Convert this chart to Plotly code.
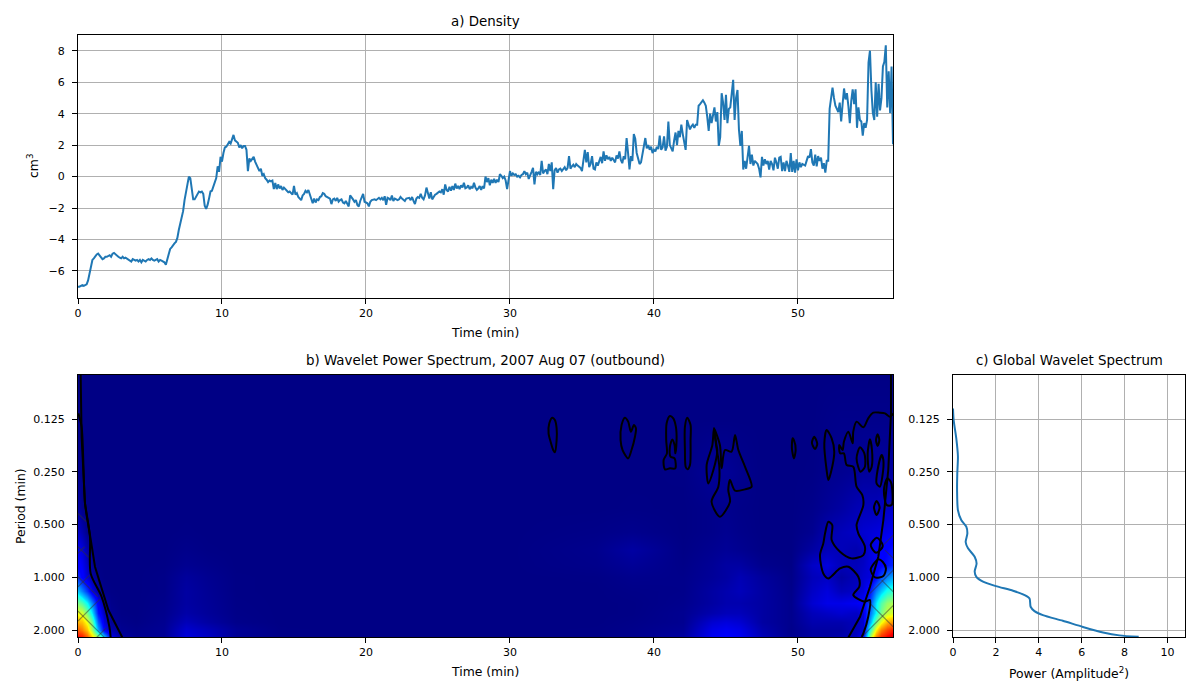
import math
import plotly.graph_objects as go

# ---------- a) Density: one row per minute, samples every 0.1 min ----------
DENSITY_ROWS = [
 [-7.0,-7.0,-6.95,-6.9,-6.95,-6.9,-6.85,-6.6,-6.2,-5.8],
 [-5.3,-5.2,-5.05,-4.95,-4.9,-5.0,-5.15,-5.25,-5.2,-5.1],
 [-5.1,-5.05,-5.0,-5.1,-4.9,-4.85,-4.95,-5.05,-5.1,-5.15],
 [-5.2,-5.1,-5.2,-5.15,-5.2,-5.25,-5.35,-5.4,-5.25,-5.3],
 [-5.35,-5.3,-5.4,-5.3,-5.45,-5.3,-5.35,-5.4,-5.3,-5.25],
 [-5.3,-5.2,-5.3,-5.35,-5.3,-5.25,-5.4,-5.3,-5.35,-5.4],
 [-5.45,-5.6,-5.3,-4.95,-4.6,-4.5,-4.35,-4.25,-4.15,-3.9],
 [-3.4,-3.0,-2.7,-2.2,-1.5,-1.0,-0.4,0.0,-0.1,-0.9],
 [-1.45,-1.45,-1.3,-1.15,-0.95,-1.0,-0.95,-1.1,-1.85,-2.05],
 [-1.8,-1.4,-0.95,-0.9,-0.6,-0.45,-0.1,0.65,0.3,1.25],
 [0.95,1.5,1.85,1.9,2.1,2.2,2.1,2.35,2.65,2.3],
 [2.2,2.15,1.85,2.0,1.8,1.95,1.95,1.7,0.35,1.15],
 [1.0,1.1,1.25,0.95,0.75,0.6,0.35,0.5,0.05,0.15],
 [-0.1,-0.2,-0.35,-0.25,-0.3,-0.25,-0.8,-0.4,-0.8,-0.5],
 [-0.75,-0.6,-0.85,-0.7,-0.8,-0.9,-1.0,-0.95,-1.05,-1.15],
 [-0.6,-1.15,-1.05,-1.3,-1.4,-1.5,-1.2,-1.1,-0.9,-1.0],
 [-0.85,-1.1,-1.35,-1.7,-1.4,-1.65,-1.45,-1.5,-1.3,-1.25],
 [-1.05,-1.1,-1.25,-1.3,-1.35,-1.4,-1.75,-1.45,-1.4,-1.55],
 [-1.35,-1.6,-1.5,-1.45,-1.65,-1.7,-1.55,-1.75,-1.9,-1.2],
 [-1.3,-1.45,-1.6,-1.5,-1.8,-1.9,-1.55,-1.35,-1.1,-1.6],
 [-1.65,-1.7,-1.9,-1.6,-1.5,-1.45,-1.45,-1.5,-1.4,-1.35],
 [-1.45,-1.35,-1.5,-1.25,-1.8,-1.35,-1.4,-1.5,-1.2,-1.55],
 [-1.4,-1.45,-1.5,-1.45,-1.3,-1.4,-1.45,-1.55,-1.4,-1.35],
 [-1.35,-1.5,-1.3,-1.55,-1.75,-1.4,-1.3,-1.35,-1.1,-1.35],
 [-1.45,-1.2,-0.7,-1.05,-1.4,-1.0,-1.45,-1.3,-1.15,-1.1],
 [-1.05,-0.95,-1.0,-0.8,-1.15,-0.5,-0.85,-0.95,-0.65,-0.9],
 [-0.6,-0.85,-0.45,-0.75,-0.6,-0.8,-0.55,-0.7,-0.4,-0.75],
 [-0.7,-0.55,-0.8,-0.65,-0.75,-0.4,-0.7,-0.85,-0.75,-0.6],
 [-0.85,-0.6,-0.75,0.0,-0.35,-0.1,-0.55,-0.2,-0.4,-0.15],
 [-0.4,-0.2,-0.35,0.15,0.05,-0.1,0.0,-0.25,-0.8,-0.2],
 [0.35,0.05,0.2,0.1,0.15,0.0,0.05,-0.05,0.1,0.15],
 [0.35,0.15,0.25,-0.15,0.15,0.3,0.55,-0.5,0.3,0.15],
 [0.3,0.1,1.0,0.2,0.35,0.45,0.15,0.8,0.35,0.9],
 [-0.8,0.4,0.55,0.25,0.45,0.5,0.35,0.45,0.6,0.4],
 [0.55,1.3,0.5,0.65,0.75,0.6,0.8,0.7,0.65,0.55],
 [0.35,1.1,1.7,0.9,1.55,0.6,0.8,1.3,0.5,0.45],
 [0.9,0.7,1.05,1.25,0.85,1.6,1.0,1.35,1.1,1.25],
 [1.0,1.2,1.05,0.9,1.35,1.15,1.6,1.05,0.85,1.3],
 [1.1,2.45,1.5,0.45,1.3,1.0,2.7,2.4,1.5,1.2],
 [0.8,0.9,1.4,2.0,2.45,1.8,2.0,1.7,1.9,1.5],
 [1.7,1.6,1.9,1.75,2.6,1.7,1.85,2.55,1.65,1.9],
 [3.5,2.0,1.8,1.6,2.3,2.8,2.0,2.9,2.5,3.3],
 [2.7,2.3,1.7,3.6,3.3,3.0,3.2,3.3,3.1,3.3],
 [3.3,4.5,4.6,4.75,4.85,4.7,4.5,3.8,2.9,4.0],
 [3.4,3.9,4.4,3.5,4.1,1.95,2.5,5.3,4.7,3.6],
 [5.2,3.4,4.3,4.4,5.5,6.15,3.6,5.0,5.5,3.0],
 [1.95,2.9,0.45,1.0,0.5,1.3,1.95,0.8,1.4,0.7],
 [1.0,0.9,0.8,0.5,-0.05,1.25,0.7,1.1,0.8,1.0],
 [0.45,1.0,0.8,0.4,1.2,0.9,0.5,1.2,1.25,0.35],
 [0.9,0.35,1.0,0.7,0.3,1.5,0.3,1.0,0.25,1.1],
 [0.4,0.9,0.6,0.8,0.75,0.7,1.0,1.3,1.2,1.75],
 [0.9,0.7,1.4,0.65,1.3,1.0,1.2,0.5,0.85,0.25],
 [1.0,1.0,4.3,5.0,5.65,5.0,4.5,4.3,4.1,4.7],
 [3.5,4.6,5.6,4.9,5.3,4.5,3.4,4.8,5.55,4.6],
 [5.55,3.1,4.4,3.6,3.5,2.6,3.4,3.1,3.6,7.25],
 [8.0,5.5,4.05,3.6,6.0,3.8,5.9,4.2,5.0,7.0],
 [7.3,8.35,4.4,6.7,4.05,7.0,2.05],
]
density = [v for row in DENSITY_ROWS for v in row]
density_time = [i / 10 for i in range(len(density))]

# ---------- b) Wavelet power (normalised), read by colour ----------
HEAT_TIME = [0,.3,.6,1,1.4,1.8,2.3,3,4,6,7.5,9,11,14,20,30,36,38.5,42,44,45,46,47.5,49.5,51,52,53,54,54.5,55,55.4,55.8,56.2,56.66]
HEAT_PERIOD = [.07,.125,.25,.4,.55,.7,.85,1.0,1.2,1.4,1.6,1.8,2.0,2.19]
HEAT_POWER = [
 [.005]*34,
 [.01,.005,.005,.005,.005,.005,.005,.005,.005,.005,.005,.005,.005,.005,.005,.005,.005,.005,.005,.005,.005,.005,.005,.005,.005,.008,.01,.01,.01,.01,.01,.01,.01,.012],
 [.012,.005,.005,.005,.005,.005,.005,.005,.005,.005,.005,.005,.005,.005,.005,.005,.005,.005,.006,.02,.02,.012,.005,.005,.006,.012,.015,.02,.025,.025,.025,.025,.025,.03],
 [.03,.01,.005,.005,.005,.005,.005,.005,.005,.005,.005,.005,.005,.005,.005,.005,.005,.006,.005,.01,.012,.008,.005,.005,.01,.02,.03,.045,.05,.05,.05,.055,.06,.065],
 [.06,.04,.01,.005,.005,.005,.005,.005,.005,.005,.006,.005,.005,.005,.005,.005,.008,.012,.005,.01,.015,.01,.005,.005,.015,.04,.05,.06,.07,.075,.08,.085,.09,.1],
 [.10,.08,.04,.01,.005,.005,.005,.005,.005,.005,.01,.006,.005,.005,.005,.005,.012,.03,.006,.015,.02,.015,.006,.005,.03,.05,.05,.04,.05,.08,.1,.11,.125,.15],
 [.12,.10,.06,.02,.006,.005,.005,.005,.005,.006,.015,.01,.005,.005,.005,.005,.01,.02,.008,.02,.03,.03,.012,.006,.06,.08,.05,.05,.06,.08,.1,.12,.14,.17],
 [.16,.12,.07,.03,.01,.005,.005,.005,.005,.008,.025,.015,.006,.005,.005,.005,.006,.012,.01,.022,.03,.045,.025,.008,.05,.06,.03,.05,.07,.08,.13,.2,.26,.3],
 [.32,.26,.18,.09,.03,.01,.006,.005,.005,.008,.03,.018,.006,.005,.005,.005,.005,.008,.01,.03,.04,.05,.03,.01,.06,.08,.05,.06,.08,.14,.26,.33,.4,.43],
 [.5,.46,.38,.26,.1,.03,.01,.005,.005,.01,.03,.02,.007,.005,.005,.005,.005,.006,.012,.03,.04,.04,.03,.012,.07,.09,.09,.1,.11,.2,.36,.46,.53,.56],
 [.62,.6,.5,.36,.14,.05,.015,.006,.005,.012,.035,.022,.008,.005,.005,.005,.005,.006,.015,.04,.05,.05,.03,.012,.05,.06,.07,.06,.08,.24,.38,.5,.58,.6],
 [.72,.7,.62,.48,.22,.08,.02,.01,.006,.015,.05,.03,.01,.005,.005,.005,.005,.008,.015,.07,.08,.07,.03,.012,.04,.04,.04,.05,.07,.3,.5,.62,.72,.76],
 [.82,.78,.7,.55,.3,.12,.04,.015,.01,.018,.07,.05,.02,.006,.005,.005,.006,.01,.02,.09,.1,.09,.04,.01,.03,.03,.03,.05,.07,.42,.65,.78,.85,.9],
 [.92,.9,.82,.68,.55,.33,.1,.03,.015,.02,.08,.06,.02,.008,.006,.006,.008,.012,.03,.1,.11,.1,.05,.015,.03,.03,.04,.06,.12,.55,.78,.88,.92,.95],
]
# matplotlib "jet" stops
JET = [[0,"rgb(0,0,127)"],[.11,"rgb(0,0,255)"],[.125,"rgb(0,0,255)"],[.35,"rgb(0,219,255)"],[.375,"rgb(0,255,255)"],
       [.64,"rgb(255,255,0)"],[.66,"rgb(255,230,0)"],[.89,"rgb(255,30,0)"],[.91,"rgb(255,0,0)"],[1,"rgb(127,0,0)"]]

# Significance contours as (time in min, log2 of the period)
CONTOURS = [
 ([32.94,32.73,32.68,32.82,33.0,33.12,33.24,33.24,33.12,32.94],[-3.025,-2.918,-2.728,-2.57,-2.412,-2.368,-2.6,-2.823,-2.98,-3.025]),
 ([37.98,37.75,37.68,37.82,38.21,38.44,38.68,38.75,38.61,38.4,38.21,37.98],[-3.025,-2.886,-2.6,-2.412,-2.254,-2.412,-2.665,-2.823,-2.886,-2.76,-2.95,-3.025]),
 ([41.11,40.88,40.85,40.9,40.67,40.76,41.11,41.48,41.43,41.15,41.11,41.27,41.43,41.48,41.57,41.52,41.34,41.11],[-3.057,-2.918,-2.6,-2.349,-2.223,-2.046,-2.065,-2.065,-2.254,-2.286,-2.475,-2.614,-2.507,-2.349,-2.6,-2.855,-3.012,-3.057]),
 ([42.31,42.15,42.15,42.2,42.33,42.5,42.54,42.54,42.31],[-3.025,-2.855,-2.412,-2.096,-2.046,-2.128,-2.6,-2.886,-3.025]),
 ([44.17,44.05,43.66,43.77,44.12,44.4,44.35,44.17],[-2.823,-2.5,-2.13,-1.78,-2.03,-2.41,-2.48,-2.823]),
 ([44.17,44.58,44.7,44.93,45.39,45.63,45.86,46.32,46.78,46.32,45.63,45.28,45.16,45.28,44.58,44.0,44.47,44.54,44.35,44.17],
  [-2.823,-2.507,-2.065,-2.412,-2.381,-2.697,-2.412,-2.096,-1.717,-1.667,-1.642,-1.844,-1.654,-1.433,-1.149,-1.433,-1.717,-2.096,-2.444,-2.823]),
 ([49.63,49.58,49.72,49.84,49.72,49.63],[-2.634,-2.444,-2.254,-2.412,-2.6,-2.634]),
 ([51.13,50.97,51.18,51.34,51.13],[-2.665,-2.551,-2.431,-2.526,-2.665]),
 ([51.99,51.83,51.99,52.11,52.38,52.52,52.34,51.99],[-2.792,-2.539,-2.033,-1.844,-2.096,-2.381,-2.634,-2.792]),
 ([56.64,56.39,56.04,55.69,55.23,54.88,54.54,54.07,53.84,53.8,53.5,53.19,53.1,52.87,52.92,53.19,53.38,53.84,54.07,54.47,54.54,54.07,54.19,54.65,54.54,53.73,52.92,52.34,52.38,52.11,51.88,51.76,51.53,51.76,52.11,52.92,53.5,54.19,54.26,53.84,54.65,55.0,54.88,54.54,54.42],
  [-3.107,-3.044,-3.107,-3.12,-3.12,-3.013,-2.842,-2.95,-2.76,-2.539,-2.76,-2.57,-2.412,-2.507,-2.349,-2.349,-2.128,-2.096,-1.717,-1.559,-1.37,-.991,-.833,-.58,-.422,-.359,-.485,-.706,-.991,-1.054,-.833,-.643,-.422,-.074,.02,-.169,-.2,-.011,.179,.336,.463,.431,.747,1.063,1.13]),
 ([54.31,54.07,54.35,54.65,54.61,54.31],[-2.463,-2.254,-2.002,-2.096,-2.349,-2.463]),
 ([55.0,54.84,54.95,55.12,55.14,55.0],[-2.615,-2.349,-2.002,-2.096,-2.412,-2.615]),
 ([55.53,55.42,55.53,55.65,55.53],[-2.709,-2.602,-2.488,-2.602,-2.709]),
 ([55.81,55.53,55.46,55.69,55.86,55.93,55.81],[-2.318,-2.033,-1.78,-1.717,-1.907,-2.223,-2.318]),
 ([56.2,55.97,56.16,56.5,56.55,56.44,56.2],[-1.875,-1.654,-1.37,-1.37,-1.654,-1.812,-1.875]),
 ([55.46,55.28,55.46,55.67,55.46],[-1.446,-1.326,-1.18,-1.326,-1.446]),
 ([55.46,55.05,55.42,55.88,55.69,55.46],[-.75,-.611,-.466,-.58,-.706,-.75]),
 ([55.58,55.05,55.35,55.93,56.11,55.88,55.58],[-.34,-.15,0.0,-.024,-.169,-.295,-.34]),
 ([.02,.25,.486,.83,.88,1.64,2.18,2.27],[-3.107,-2.855,-1.401,-.77,-.074,.368,.937,1.14]),
]
COI_LEFT_T = [.185,.25,.486,1.18,2.11,3.08]
COI_LEFT_P = [-3.834,-2.665,-1.401,-.2,.62,1.14]
COI_RIGHT_T = [56.46,56.46,56.27,55.93,55.58,55.0,54.31,53.5]
COI_RIGHT_P = [-3.834,-3.107,-2.033,-1.085,-.39,.179,.747,1.14]

# Cone-of-influence hatching, each stroke as (t0, t1, log2p0, log2p1)
HATCH = [
 (0,.58,-1.212,-1.054),(0,.46,-.453,-.58),(0,.74,-.58,-.377),(0,1.39,-.01,.368),(0,1.85,.64,1.145),
 (0,.81,.179,-.042),(0,1.5,.83,.419),(1.16,1.97,1.177,.956),
 (54.88,56.62,.463,.937),(56.62,54.42,.533,1.133),(56.62,55.0,-.137,.305),(55.81,56.62,.053,.274),
 (56.62,55.58,-.8,-.516),(56.04,56.62,-.516,-.358),(56.62,56.04,-1.464,-1.306),
]

# ---------- c) Global wavelet spectrum ----------
GWS_POWER = [0.0,.03,.155,.23,.2,.19,.23,.39,.62,.67,.59,.70,1.01,1.1,1.01,1.09,1.4,2.0,2.8,3.34,3.57,3.62,3.8,4.19,5.12,6.06,7.0,7.76,8.66]
GWS_LOG2P = [-3.2,-2.98,-2.63,-2.29,-1.97,-1.65,-1.27,-1.08,-.96,-.83,-.67,-.55,-.39,-.26,-.11,-.01,.08,.166,.254,.337,.4,.558,.64,.716,.823,.94,1.044,1.1,1.127]

PERIOD_TICKS = [.125,.25,.5,1,2]
PERIOD_LABELS = ["0.125","0.250","0.500","1.000","2.000"]
TITLES = ["a) Density","b) Wavelet Power Spectrum, 2007 Aug 07 (outbound)","c) Global Wavelet Spectrum"]

W, H = 1200, 700
LEFT = 3
FONT = "DejaVu Sans"
BLUE = "#1f77b4"
GRID = "#b0b0b0"
to_period = lambda values: [2 ** v for v in values]

fig = go.Figure()
fig.add_trace(go.Scatter(x=density_time, y=density, mode="lines", line=dict(color=BLUE, width=2), xaxis="x", yaxis="y", showlegend=False))
fig.add_trace(go.Heatmap(x=HEAT_TIME, y=HEAT_PERIOD, z=HEAT_POWER, colorscale=JET, zmin=0, zmax=1, zsmooth="best", showscale=False, xaxis="x2", yaxis="y2"))
for t0, t1, p0, p1 in HATCH:
    fig.add_trace(go.Scatter(x=[t0, t1], y=to_period([p0, p1]), mode="lines", line=dict(color="rgba(50,50,50,0.5)", width=1.2), xaxis="x2", yaxis="y2", showlegend=False, hoverinfo="skip"))
for ct, cp in ((COI_LEFT_T, COI_LEFT_P), (COI_RIGHT_T, COI_RIGHT_P)):
    fig.add_trace(go.Scatter(x=ct, y=to_period(cp), mode="lines", line=dict(color="black", width=2), xaxis="x2", yaxis="y2", showlegend=False))
for ct, cp in CONTOURS:
    fig.add_trace(go.Scatter(x=ct, y=to_period(cp), mode="lines", line=dict(color="black", width=2, shape="spline", smoothing=0.8), xaxis="x2", yaxis="y2", showlegend=False))
fig.add_trace(go.Scatter(x=GWS_POWER, y=to_period(GWS_LOG2P), mode="lines", line=dict(color=BLUE, width=2, shape="spline", smoothing=0.7), xaxis="x3", yaxis="y3", showlegend=False))

tickfont = dict(family=FONT, size=11, color="black")
def axis(domain, rng, **kw):
    return dict(domain=domain, range=rng, showline=True, linecolor="black", linewidth=1, mirror=True, ticks="outside", ticklen=5,
                tickwidth=1, tickcolor="black", tickfont=tickfont, zeroline=False, **kw)
xd = lambda a, b: [(a - LEFT) / (W - LEFT), (b - LEFT) / (W - LEFT)]
yd = lambda top, bot: [(H - bot) / H, (H - top) / H]
prange = [math.log10(2.19), math.log10(2 ** -3.834)]
fig.update_layout(
    width=W, height=H, margin=dict(l=LEFT, r=0, t=0, b=0), paper_bgcolor="white", plot_bgcolor="white", showlegend=False,
    xaxis=axis(xd(78, 893), [0, 56.6], anchor="y", tickvals=[0,10,20,30,40,50], showgrid=True, gridcolor=GRID, gridwidth=1),
    yaxis=axis(yd(35, 298), [-7.72, 9.0], anchor="x", tickvals=[-6,-4,-2,0,2,4,6,8], ticktext=["\u22126","\u22124","\u22122","0","2","4","6","8"], showgrid=True, gridcolor=GRID, gridwidth=1, ticklabelstandoff=5),
    xaxis2=axis(xd(78, 893), [0, 56.6], anchor="y2", tickvals=[0,10,20,30,40,50], showgrid=False),
    yaxis2=axis(yd(375, 637), prange, anchor="x2", type="log", tickvals=PERIOD_TICKS, ticktext=PERIOD_LABELS, showgrid=False, ticklabelstandoff=5),
    xaxis3=axis(xd(953, 1185), [0, 10.82], anchor="y3", tickvals=[0,2,4,6,8,10], showgrid=True, gridcolor=GRID, gridwidth=1),
    yaxis3=axis(yd(375, 637), prange, anchor="x3", type="log", tickvals=PERIOD_TICKS, ticktext=PERIOD_LABELS, showgrid=True, gridcolor=GRID, gridwidth=1, ticklabelstandoff=5),
)
# Labels are pinned to an axis domain so that they cannot push the page margins
BOXES = {"": (78, 893, 35, 298), "2": (78, 893, 375, 637), "3": (953, 1185, 375, 637)}
def label(text, x, y, size, box, angle=0):
    x0, x1, y0, y1 = BOXES[box]
    fig.add_annotation(text=text, x=(x - x0) / (x1 - x0), y=(y1 - y) / (y1 - y0), xref=f"x{box} domain", yref=f"y{box} domain",
                       showarrow=False, textangle=angle, xanchor="center", yanchor="middle", font=dict(family=FONT, size=size, color="black"))
label(TITLES[0], 486, 21, 13.4, "")
label(TITLES[1], 486, 360, 13.4, "2")
label(TITLES[2], 1069, 360, 13.4, "3")
label("Time (min)", 485, 332, 12.4, "")
label("Time (min)", 485, 671, 12.4, "2")
label("Power (Amplitude<sup>2</sup>)", 1069, 673, 12.4, "3")
label("cm<sup>3</sup>", 33, 166, 12.4, "", -90)
label("Period (min)", 20, 506, 12.4, "2", -90)

fig.write_html("out.html", post_script="document.body.style.margin='0';", config={"displayModeBar": False})
